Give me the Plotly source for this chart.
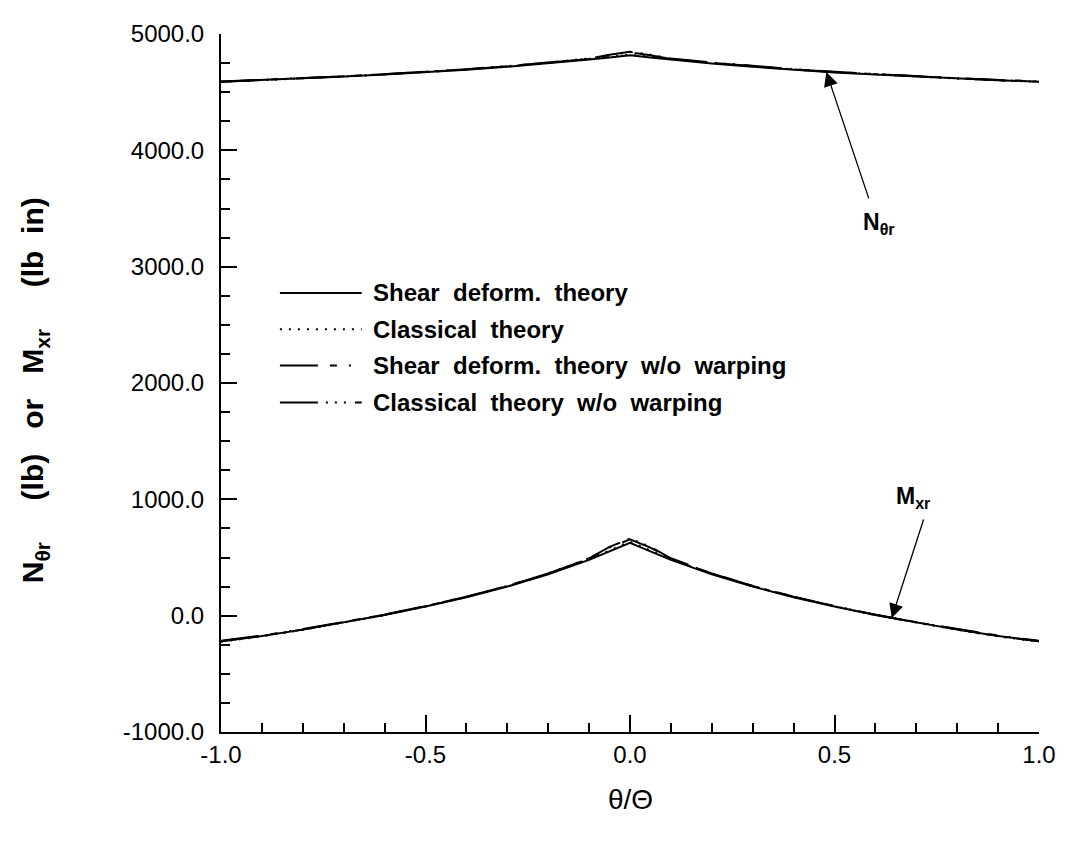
import numpy as np
import plotly.graph_objects as go

# ---- data ----
theta = [-1.0, -0.9, -0.8, -0.7, -0.6, -0.5, -0.4, -0.3, -0.2, -0.1, -0.05, 0.0,
         0.05, 0.1, 0.2, 0.3, 0.4, 0.5, 0.6, 0.7, 0.8, 0.9, 1.0]

n_shear = [4590, 4603, 4618, 4634, 4651, 4670, 4692, 4718, 4747, 4780, 4798, 4817,
           4798, 4780, 4747, 4718, 4692, 4670, 4651, 4634, 4618, 4603, 4590]
n_class = [4589, 4602, 4617, 4634, 4652, 4672, 4695, 4721, 4751, 4784, 4802, 4822,
           4802, 4784, 4751, 4721, 4695, 4672, 4652, 4634, 4617, 4602, 4589]
n_shear_nw = [4592, 4605, 4620, 4636, 4654, 4673, 4696, 4722, 4752, 4786, 4818, 4843,
              4818, 4786, 4752, 4722, 4696, 4673, 4654, 4636, 4620, 4605, 4592]
n_class_nw = [4590, 4604, 4619, 4636, 4655, 4675, 4698, 4724, 4755, 4789, 4822, 4847,
              4822, 4789, 4755, 4724, 4698, 4675, 4655, 4636, 4619, 4604, 4590]

m_shear = [-220, -175, -120, -60, 5, 78, 158, 250, 355, 480, 552, 626,
           552, 480, 355, 250, 158, 78, 5, -60, -120, -175, -220]
m_class = [-224, -178, -122, -61, 5, 79, 160, 253, 359, 486, 560, 636,
           560, 486, 359, 253, 160, 79, 5, -61, -122, -178, -224]
m_shear_nw = [-216, -171, -116, -56, 9, 82, 163, 256, 362, 490, 585, 656,
              585, 490, 362, 256, 163, 82, 9, -56, -116, -171, -216]
m_class_nw = [-221, -174, -119, -58, 8, 81, 162, 255, 363, 493, 592, 663,
              592, 493, 363, 255, 162, 81, 8, -58, -119, -174, -221]

series_names = ["Shear deform. theory", "Classical theory",
                "Shear deform. theory w/o warping", "Classical theory w/o warping"]
dashes = ["solid", "2px,7px", "38px,12px,7px,12px,2px,12px",
          "38px,8px,2px,7px,2px,7px,2px,9px"]

x_ticks = [-1.0, -0.5, 0.0, 0.5, 1.0]
y_ticks = [-1000, 0, 1000, 2000, 3000, 4000, 5000]

FONT = "Liberation Sans, Arial, sans-serif"

fig = go.Figure()
n_sets = [n_shear, n_class, n_shear_nw, n_class_nw]
m_sets = [m_shear, m_class, m_shear_nw, m_class_nw]
for name, dash, nv, mv in zip(series_names, dashes, n_sets, m_sets):
    fig.add_trace(go.Scatter(x=theta, y=nv, mode="lines", name=name,
                             line=dict(color="black", width=2, dash=dash),
                             showlegend=False))
    fig.add_trace(go.Scatter(x=theta, y=mv, mode="lines", name=name,
                             line=dict(color="black", width=2, dash=dash),
                             showlegend=False))

# manual legend (line samples + bold text)
leg_y = [0.629, 0.577, 0.525, 0.472]
for name, dash, ly in zip(series_names, dashes, leg_y):
    fig.add_shape(type="line", xref="paper", yref="paper",
                  x0=0.072, x1=0.172, y0=ly, y1=ly,
                  line=dict(color="black", width=2, dash=dash))
    fig.add_annotation(xref="paper", yref="paper", x=0.183, y=ly,
                       xanchor="left", yanchor="middle", showarrow=False,
                       text="<b>" + name.replace(" ", "\u00a0\u00a0") + "</b>",
                       font=dict(family=FONT, size=24, color="black"))

# curve labels with arrows
tip_n_x, tail_n = 0.48, (0.585, 3574)
tip_m_x, tail_m = 0.64, (0.719, 840)
fig.add_annotation(x=tip_n_x, y=float(np.interp(tip_n_x, theta, n_shear)),
                   axref="x", ayref="y", ax=tail_n[0], ay=tail_n[1],
                   showarrow=True, arrowhead=2, arrowsize=2.2, standoff=0,
                   arrowwidth=1.3, arrowcolor="black", text="")
fig.add_annotation(x=tip_m_x, y=float(np.interp(tip_m_x, theta, m_shear)),
                   axref="x", ayref="y", ax=tail_m[0], ay=tail_m[1],
                   showarrow=True, arrowhead=2, arrowsize=2.2, standoff=0,
                   arrowwidth=1.3, arrowcolor="black", text="")
fig.add_annotation(xref="paper", yref="paper", x=0.804, y=0.728,
                   showarrow=False, xanchor="center", yanchor="middle",
                   text="<b>N<sub>θr</sub></b>",
                   font=dict(family=FONT, size=23, color="black"))
fig.add_annotation(xref="paper", yref="paper", x=0.847, y=0.336,
                   showarrow=False, xanchor="center", yanchor="middle",
                   text="<b>M<sub>xr</sub></b>",
                   font=dict(family=FONT, size=23, color="black"))

# axis titles
fig.add_annotation(xref="paper", yref="paper", x=-0.227, y=0.49,
                   textangle=-90, showarrow=False,
                   xanchor="center", yanchor="middle",
                   text="<b>N<sub>θr</sub>\u00a0\u00a0\u00a0\u00a0 (lb)\u00a0\u00a0\u00a0or\u00a0\u00a0\u00a0M<sub>xr</sub>\u00a0\u00a0\u00a0\u00a0 (lb\u00a0\u00a0in)</b>",
                   font=dict(family=FONT, size=30, color="black"))
fig.add_annotation(xref="paper", yref="paper", x=0.5, y=-0.096,
                   showarrow=False, xanchor="center", yanchor="middle",
                   text="θ/Θ", font=dict(family=FONT, size=28, color="black"))

fig.update_xaxes(range=[-1.0, 1.0], tickvals=x_ticks,
                 ticktext=[f"{v:.1f}" for v in x_ticks],
                 ticks="inside", ticklen=17, tickwidth=2, tickcolor="black",
                 minor=dict(dtick=0.1, ticks="inside", ticklen=9, tickwidth=2,
                            tickcolor="black"),
                 showline=True, linewidth=2, linecolor="black", mirror=False,
                 showgrid=False, zeroline=False,
                 tickfont=dict(family=FONT, size=24, color="black"))
fig.update_yaxes(range=[-1000, 5000], tickvals=y_ticks,
                 ticktext=[f"{v:.1f}" for v in y_ticks],
                 ticks="inside", ticklen=16, tickwidth=2, tickcolor="black",
                 minor=dict(dtick=250, ticks="inside", ticklen=9, tickwidth=2,
                            tickcolor="black"),
                 showline=True, linewidth=2, linecolor="black", mirror=False,
                 showgrid=False, zeroline=False, ticklabelstandoff=10,
                 tickfont=dict(family=FONT, size=24, color="black"))

fig.update_layout(width=1061, height=834,
                  margin=dict(l=213, r=30, t=17, b=110),
                  paper_bgcolor="white", plot_bgcolor="white",
                  showlegend=False)

fig.write_html("out.html")
